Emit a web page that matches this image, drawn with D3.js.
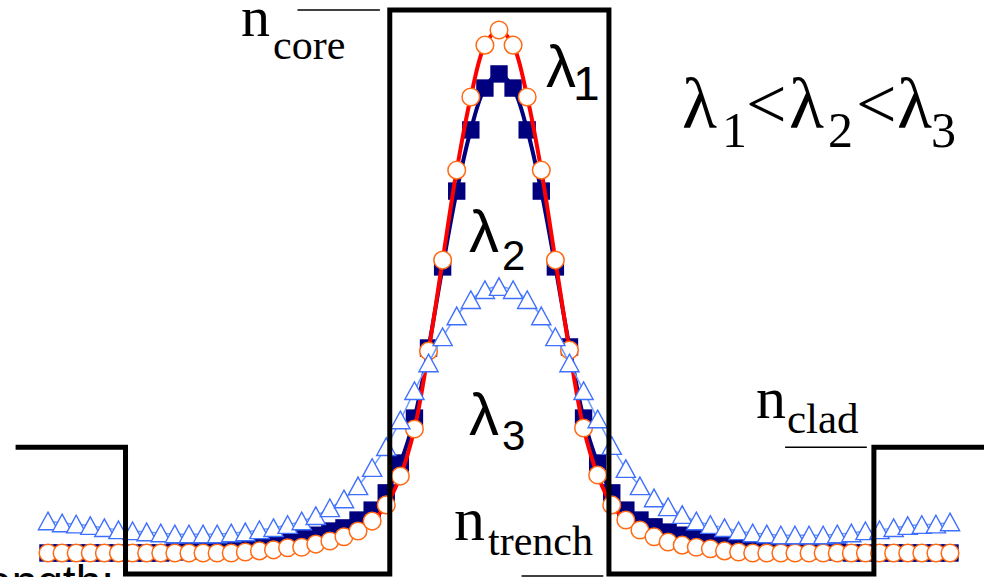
<!DOCTYPE html>
<html>
<head>
<meta charset="utf-8">
<script src="https://cdn.jsdelivr.net/npm/d3@7"></script>
<style>
  body { margin: 0; background: #ffffff; overflow: hidden; }
  svg { display: block; }
</style>
</head>
<body>
<div class="svg-wrapper"></div>
<script>
// radial position (arbitrary units), one sample per marker
const positions = [-32, -31, -30, -29, -28, -27, -26, -25, -24, -23, -22, -21, -20, -19, -18, -17,
  -16, -15, -14, -13, -12, -11, -10, -9, -8, -7, -6, -5, -4, -3, -2, -1, 0,
  1, 2, 3, 4, 5, 6, 7, 8, 9, 10, 11, 12, 13, 14, 15, 16,
  17, 18, 19, 20, 21, 22, 23, 24, 25, 26, 27, 28, 29, 30, 31, 32];

// mode intensity, normalised to the lambda1 peak
const lambda1 = [0, 0, 0, 0, 0, 0, 0, 0, 0, 0, 0, 0, 0, 0,
  0.002, 0.004, 0.006, 0.010, 0.011, 0.017, 0.023, 0.031, 0.042, 0.061, 0.092, 0.147, 0.237, 0.386, 0.560, 0.732, 0.872, 0.971, 1.000,
  0.971, 0.872, 0.732, 0.560, 0.388, 0.239, 0.149, 0.092, 0.063, 0.044, 0.031, 0.021, 0.015, 0.011, 0.008, 0.004, 0.002,
  0, 0, 0, 0, 0, 0, 0, 0, 0, 0, 0, 0, 0, 0, 0];

const lambda2 = [0, 0, 0, 0, 0, 0, 0, 0, 0,
  0.002, 0.004, 0.006, 0.008, 0.010, 0.013, 0.015, 0.017, 0.023, 0.029, 0.034, 0.042, 0.048, 0.063, 0.082, 0.115, 0.172, 0.258, 0.392, 0.547, 0.692, 0.809, 0.889, 0.916,
  0.889, 0.809, 0.692, 0.547, 0.394, 0.258, 0.172, 0.115, 0.082, 0.063, 0.050, 0.040, 0.034, 0.029, 0.023, 0.019, 0.013, 0.010, 0.008, 0.008, 0.006, 0.006, 0.004, 0.002,
  0, 0, 0, 0, 0, 0, 0, 0];

const lambda3 = [0.061, 0.057, 0.055, 0.052, 0.048, 0.044, 0.042, 0.040, 0.038, 0.036, 0.036, 0.036, 0.036, 0.038, 0.040, 0.044, 0.048,
  0.054, 0.061, 0.071, 0.086, 0.103, 0.128, 0.163, 0.203, 0.254, 0.310, 0.363, 0.413, 0.453, 0.484, 0.503, 0.509,
  0.503, 0.484, 0.453, 0.413, 0.363, 0.310, 0.256, 0.205, 0.161, 0.128, 0.105, 0.088, 0.073, 0.061, 0.054, 0.048,
  0.042, 0.038, 0.036, 0.034, 0.034, 0.034, 0.034, 0.036, 0.038, 0.042, 0.044, 0.048, 0.052, 0.054, 0.055, 0.059];

// refractive index profile (relative index, arbitrary units)
const profileR = [-34.3, -26.5, -26.5, -7.75, -7.75, 7.8, 7.8, 26.6, 26.6, 34.6];
const profileN = [0, 0, -1.45, -1.45, 5, 5, -1.45, -1.45, 0, 0];

// short level marks next to the index labels: core, clad, trench
const levelN = [5, 0, -1.45];
const levelFrom = [-14.3, 20.3, 1.6];
const levelTo = [-8.45, 26.1, 7.4];

const width = 984, height = 577;

const svg = d3
  .select(".svg-wrapper")
  .append("svg")
  .attr("width", width)
  .attr("height", height)
  .attr("viewBox", `0 0 ${width} ${height}`);

const xScale = d3.scaleLinear().domain([-32, 32]).range([48, 950]);
const yField = d3.scaleLinear().domain([0, 1]).range([553, 30]);
const yIndex = d3.scaleLinear().domain([-1.45, 5]).range([574, 10]);

const series = [
  {values: lambda3, line: "#6f9cff", lineWidth: 1.5, marker: "triangle"},
  {values: lambda2, line: "#00007f", lineWidth: 4, marker: "square"},
  {values: lambda1, line: "#ff0000", lineWidth: 4, marker: "circle"}
];

const lineGen = values => d3.line()
  .x((d, i) => xScale(positions[i]))
  .y(d => yField(d))
  .curve(d3.curveCatmullRom)(values);

const triPath = "M0,-9L9.6,8.6L-9.6,8.6Z";

// draw order: squares, circles, then triangles on top
const drawOrder = [1, 2, 0];
drawOrder.forEach(function(si){
  const s = series[si];
  const g = svg.append("g");
  g.append("path")
    .attr("d", lineGen(s.values))
    .attr("fill", "none")
    .attr("stroke", s.line)
    .attr("stroke-width", s.lineWidth)
    .attr("stroke-linejoin", "round");

  const pts = g.selectAll(".pt")
    .data(s.values)
    .enter();

  if(s.marker == "circle"){
    pts.append("circle")
      .attr("cx", (d, i) => xScale(positions[i]))
      .attr("cy", d => yField(d))
      .attr("r", 8.8)
      .attr("fill", "#ffffff")
      .attr("stroke", "#ff6a13")
      .attr("stroke-width", 1.5);
  } else if(s.marker == "square"){
    pts.append("rect")
      .attr("x", (d, i) => xScale(positions[i]) - 8.7)
      .attr("y", d => yField(d) - 8.7)
      .attr("width", 17.4)
      .attr("height", 17.4)
      .attr("fill", "#00007f");
  } else {
    pts.append("path")
      .attr("d", triPath)
      .attr("transform", (d, i) => `translate(${xScale(positions[i])},${yField(d)})`)
      .attr("fill", "#ffffff")
      .attr("stroke", "#3f6fff")
      .attr("stroke-width", 1.4);
  }
});

// index profile
const profileLine = d3.line()
  .x((d, i) => xScale(profileR[i]))
  .y(d => yIndex(d));

svg.append("path")
  .attr("d", profileLine(profileN))
  .attr("fill", "none")
  .attr("stroke", "#000000")
  .attr("stroke-width", 5)
  .attr("stroke-linejoin", "miter");

svg.selectAll(".level")
  .data(levelN)
  .enter()
  .append("line")
    .attr("class", "level")
    .attr("x1", (d, i) => xScale(levelFrom[i]))
    .attr("x2", (d, i) => xScale(levelTo[i]))
    .attr("y1", d => yIndex(d) + (d < 0 ? 2 : 0))
    .attr("y2", d => yIndex(d) + (d < 0 ? 2 : 0))
    .attr("stroke", "#000000")
    .attr("stroke-width", 1.5);

// labels
const subLabel = function(x, y, main, sub, subX, subY, family, size, subSize){
  const t = svg.append("text")
    .style("font-family", family)
    .attr("fill", "#000000");
  t.append("tspan")
    .attr("x", x).attr("y", y)
    .style("font-size", size + "px")
    .text(main);
  t.append("tspan")
    .attr("x", subX).attr("y", subY)
    .style("font-size", subSize + "px")
    .text(sub);
};

const serif = "'Liberation Serif', 'Times New Roman', serif";
const sans = "'Liberation Sans', Arial, sans-serif";

subLabel(241, 36, "n", "core", 273, 59, serif, 58, 42);
subLabel(756, 418, "n", "clad", 787, 433, serif, 60, 43);
subLabel(454, 540, "n", "trench", 488, 555, serif, 62, 42);

subLabel(546, 87, "\u03bb", "1", 573, 100, sans, 60, 48);
subLabel(469, 252, "\u03bb", "2", 502, 270, sans, 60, 42);
subLabel(469, 435, "\u03bb", "3", 502, 450, sans, 60, 42);

// lambda ordering note
const note = svg.append("text")
  .style("font-family", serif)
  .attr("fill", "#000000");
const noteParts = [
  ["\u03bb", 682, 128, 72], ["1", 722, 147, 50], ["<", 746, 128, 72],
  ["\u03bb", 789, 128, 72], ["2", 828, 147, 50], ["<", 856, 128, 72],
  ["\u03bb", 897, 128, 72], ["3", 931, 147, 50]
];
noteParts.forEach(function(p){
  note.append("tspan")
    .attr("x", p[1]).attr("y", p[2])
    .style("font-size", p[3] + "px")
    .text(p[0]);
});

// cut-off caption at the bottom edge
svg.append("text")
  .attr("x", 114)
  .attr("y", 598)
  .attr("text-anchor", "end")
  .style("font-family", sans)
  .style("font-size", "46px")
  .attr("fill", "#000000")
  .text("Wavelength:");
</script>
</body>
</html>
